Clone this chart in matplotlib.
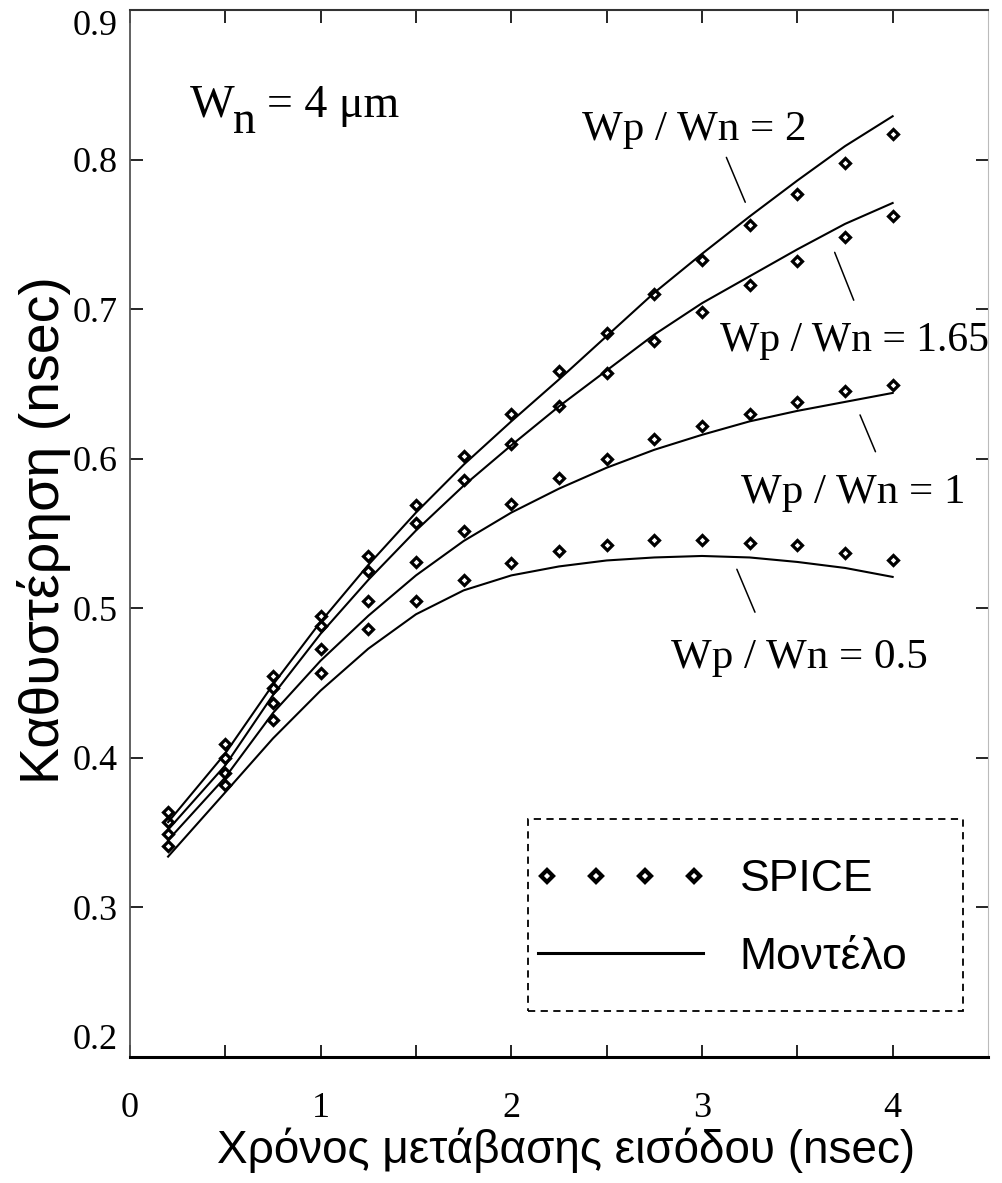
import numpy as np
import matplotlib
matplotlib.use('Agg')
import matplotlib.pyplot as plt
from matplotlib import font_manager
from matplotlib.lines import Line2D
from matplotlib.patches import Rectangle
from matplotlib.legend_handler import HandlerLine2D

# input transition time (nsec)
t_in = [0.2, 0.5, 0.75, 1.0, 1.25, 1.5, 1.75, 2.0, 2.25, 2.5, 2.75, 3.0, 3.25, 3.5, 3.75, 4.0]

# SPICE delay (nsec) for each Wp/Wn ratio
spice_2 = [0.364, 0.409, 0.455, 0.495, 0.535, 0.569, 0.602, 0.630, 0.659, 0.684, 0.710, 0.733, 0.756, 0.777, 0.798, 0.817]
spice_165 = [0.357, 0.400, 0.447, 0.488, 0.525, 0.557, 0.586, 0.610, 0.635, 0.657, 0.679, 0.698, 0.716, 0.732, 0.748, 0.762]
spice_1 = [0.349, 0.390, 0.437, 0.473, 0.505, 0.531, 0.552, 0.570, 0.587, 0.600, 0.613, 0.622, 0.630, 0.638, 0.645, 0.649]
spice_05 = [0.341, 0.382, 0.425, 0.457, 0.486, 0.505, 0.519, 0.530, 0.538, 0.542, 0.546, 0.546, 0.544, 0.542, 0.537, 0.532]

# model delay (nsec)
model_2 = [0.357, 0.403, 0.449, 0.491, 0.529, 0.564, 0.596, 0.625, 0.653, 0.682, 0.711, 0.737, 0.762, 0.786, 0.809, 0.829]
model_165 = [0.352, 0.395, 0.442, 0.483, 0.519, 0.552, 0.582, 0.609, 0.635, 0.659, 0.683, 0.704, 0.722, 0.740, 0.757, 0.771]
model_1 = [0.345, 0.387, 0.430, 0.465, 0.495, 0.522, 0.545, 0.564, 0.580, 0.594, 0.606, 0.616, 0.625, 0.632, 0.638, 0.644]
model_05 = [0.334, 0.377, 0.413, 0.445, 0.473, 0.496, 0.512, 0.522, 0.528, 0.532, 0.534, 0.535, 0.534, 0.531, 0.527, 0.521]

ratio_labels = ['Wp / Wn = 2', 'Wp / Wn = 1.65', 'Wp / Wn = 1', 'Wp / Wn = 0.5']
x_ticks = [0, 0.5, 1, 1.5, 2, 2.5, 3, 3.5, 4]
x_ticklabels = ['0', '', '1', '', '2', '', '3', '', '4']
y_ticks = [0.2, 0.3, 0.4, 0.5, 0.6, 0.7, 0.8, 0.9]

# fonts
names = {f.name for f in font_manager.fontManager.ttflist}
if 'Liberation Sans Narrow' in names:
    sans, sscale = 'Liberation Sans Narrow', 1.2
else:
    sans, sscale = 'Liberation Sans', 1.0
SANS = [sans, 'DejaVu Sans']
SERIF = ['Liberation Serif', 'DejaVu Serif']

fig = plt.figure(figsize=(10.02, 11.83), dpi=100)
ax = fig.add_axes([0.1297, 0.1065, 0.8563, 0.885])

for s in [spice_2, spice_165, spice_1, spice_05]:
    ax.plot(t_in, s, ls='none', marker='D', ms=5.0, mew=2.3, mfc='white', mec='black')
for m in [model_2, model_165, model_1, model_05]:
    ax.plot(t_in, m, color='black', lw=1.5)

ax.set_xlim(0, 4.5)
ax.set_ylim(0.2, 0.9)
ax.set_xticks(x_ticks)
ax.set_xticklabels(x_ticklabels)
ax.set_yticks(y_ticks)
ax.set_yticklabels([f'{v:.1f}' for v in y_ticks])
ax.tick_params(direction='in', top=True, right=True, length=9, width=1.2)
ax.tick_params(axis='x', pad=25, labelsize=26)
ax.tick_params(axis='y', pad=9, labelsize=26)
for lab in ax.get_xticklabels() + ax.get_yticklabels():
    lab.set_family(SERIF)
# keep the end labels inside the figure, as in the original
ylabs = ax.get_yticklabels()
ylabs[-1].set_va('top')
ylabs[0].set_va('bottom')

ax.spines['left'].set_color('#555555')
ax.spines['left'].set_linewidth(1.3)
ax.spines['top'].set_color('#333333')
ax.spines['top'].set_linewidth(1.5)
ax.spines['bottom'].set_linewidth(2.2)
ax.spines['right'].set_color('#bbbbbb')
ax.spines['right'].set_linewidth(0.8)

ax.set_xlabel('Χρόνος μετάβασης εισόδου (nsec)', family=SANS, fontsize=33 * sscale, va='center')
ax.xaxis.set_label_coords(0.508, -0.089)
ax.set_ylabel('Καθυστέρηση (nsec)', family=SANS, fontsize=40 * sscale, va='center')
ax.yaxis.set_label_coords(-0.10, 0.503)

# curve labels with leader lines
label_pos = [(2.96, 0.820), (3.80, 0.679), (3.796, 0.577), (3.512, 0.467)]
leader_from = [(3.128, 0.8015), (3.696, 0.738), (3.829, 0.6293), (3.183, 0.5261)]
leader_to = [(3.227, 0.7715), (3.796, 0.706), (3.910, 0.6047), (3.278, 0.4974)]
for txt, p, a, b in zip(ratio_labels, label_pos, leader_from, leader_to):
    ax.text(p[0], p[1], txt, family=SERIF, fontsize=31 if txt != ratio_labels[1] else 30,
            ha='center', va='center')
    ax.annotate('', xy=b, xytext=a, arrowprops=dict(arrowstyle='-', lw=1.1, color='black',
                                                    shrinkA=0, shrinkB=0))

# W_n = 4 um
ax.text(0.3145, 0.8285, 'W', family=SERIF, fontsize=34, va='baseline')
ax.text(0.540, 0.8178, 'n', family=SERIF, fontsize=33, va='baseline')
ax.text(0.718, 0.8285, '= 4 μm', family=SERIF, fontsize=33, va='baseline')

# legend
ax.add_patch(Rectangle((0.464, 0.0439), 0.507, 0.1834, transform=ax.transAxes,
                       fill=False, ls=(0, (4, 3)), lw=1.3, color='black'))
h_spice = Line2D([], [], ls='none', marker='D', ms=6.5, mew=3.0, mfc='white', mec='black')
h_model = Line2D([], [], color='black', lw=2.2)
leg_fs = 32
ax.legend([h_spice, h_model], ['SPICE', 'Μοντέλο'], loc='upper left',
          bbox_to_anchor=(0.4755, 0.189), frameon=False,
          handler_map={h_spice: HandlerLine2D(numpoints=4, marker_pad=0.2),
                       h_model: HandlerLine2D(numpoints=2, marker_pad=0)},
          handlelength=165 / (leg_fs * 100 / 72), handletextpad=0.83,
          labelspacing=0.83, borderpad=0, borderaxespad=0,
          prop={'family': SANS, 'size': leg_fs})

fig.savefig('out.png', dpi=100)
